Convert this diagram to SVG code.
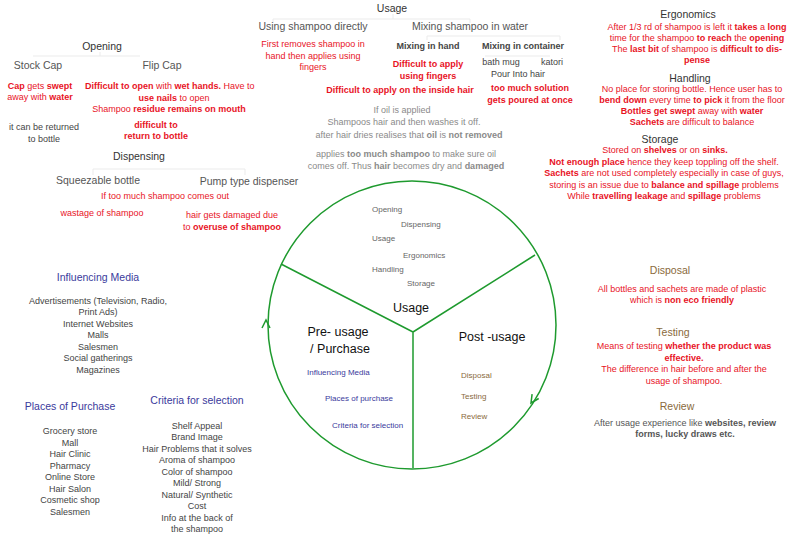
<svg xmlns="http://www.w3.org/2000/svg" width="800" height="536" viewBox="0 0 800 536">
<style>
text{font-family:"Liberation Sans",Arial,sans-serif;}
.h{font-size:10.5px;fill:#333;text-anchor:middle;}
.sub{font-size:10.5px;fill:#555;text-anchor:middle;}
.r{font-size:9px;fill:#e8131f;text-anchor:middle;}
.rb{font-size:9px;fill:#e8131f;text-anchor:middle;font-weight:bold;}
.g{font-size:9px;fill:#8a8a8a;text-anchor:middle;}
.d{font-size:9px;fill:#444;text-anchor:middle;}
.db{font-size:9px;fill:#444;text-anchor:middle;font-weight:bold;}
.b{font-weight:bold;}
.blue{font-size:10.5px;fill:#3a3a9c;text-anchor:middle;}
.brown{font-size:10.5px;fill:#8a6a3c;text-anchor:middle;}
.cs{font-size:8px;fill:#666;}
.cblue{font-size:8px;fill:#3a3a9c;}
.cbrown{font-size:8px;fill:#8a6a3c;}
.big{font-size:12.5px;fill:#111;text-anchor:middle;}
.faint{stroke:#ebebeb;stroke-width:1;fill:none;}
.green{stroke:#1e9a2e;stroke-width:1.5;fill:none;}
</style>

<g id="tree-lines">
<path class="faint" d="M273 19H470M393 14V19M273 19V23M470 19V23"/>
<path class="faint" d="M427 36H560M427 36V40M560 36V40"/>
<path class="faint" d="M485 56H550"/>
<path class="faint" d="M33 56H140M100 52V56"/>
<path class="faint" d="M93 169H245M93 169V175M245 169V175"/>
</g>

<g id="connectors">
<circle class="green" cx="412" cy="325" r="144"/>
<path class="green" d="M413 332L281 264M413 332L535 255M413 332V468"/>
<path class="green" d="M262 328L266 320L270 328"/>
<path class="green" d="M538.7 398.5L531 403L532.1 394.1"/>
</g>

<g id="usage-top">
<text class="h" x="392" y="12">Usage</text>
<text class="sub" x="313" y="30">Using shampoo directly</text>
<text class="sub" x="470" y="30">Mixing shampoo in water</text>
<text class="r" x="313" y="47">First removes shampoo in</text>
<text class="r" x="313" y="59">hand then applies using</text>
<text class="r" x="313" y="70">fingers</text>
<text class="db" x="428" y="49">Mixing in hand</text>
<text class="db" x="523" y="49">Mixing in container</text>
<text class="d" x="501" y="65">bath mug</text>
<text class="d" x="552" y="65">katori</text>
<text class="d" x="518" y="77">Pour Into hair</text>
<text class="rb" x="428" y="67">Difficult to apply</text>
<text class="rb" x="428" y="79">using fingers</text>
<text class="rb" x="400" y="93">Difficult to apply on the inside hair</text>
<text class="rb" x="530" y="91">too much solution</text>
<text class="rb" x="530" y="103">gets poured at once</text>
<text class="g" x="402" y="113">If oil is applied</text>
<text class="g" x="404" y="125">Shampoos hair and then washes it off.</text>
<text class="g" x="409" y="138">after hair dries realises that <tspan class="b">oil</tspan> is <tspan class="b">not removed</tspan></text>
<text class="g" x="406" y="157">applies <tspan class="b">too much shampoo</tspan> to make sure oil</text>
<text class="g" x="406" y="169">comes off. Thus <tspan class="b">hair</tspan> becomes dry and <tspan class="b">damaged</tspan></text>
</g>

<g id="opening">
<text class="h" x="102" y="50">Opening</text>
<text class="sub" x="38" y="69">Stock Cap</text>
<text class="sub" x="162" y="69">Flip Cap</text>
<text class="r" x="40" y="89"><tspan class="b">Cap</tspan> gets <tspan class="b">swept</tspan></text>
<text class="r" x="40" y="100">away with <tspan class="b">water</tspan></text>
<text class="r" x="85" y="89" style="text-anchor:start"><tspan class="b">Difficult to open</tspan> with <tspan class="b">wet hands.</tspan> Have to</text>
<text class="r" x="174" y="101"><tspan class="b">use nails</tspan> to open</text>
<text class="r" x="169" y="112">Shampoo <tspan class="b">residue remains on mouth</tspan></text>
<text class="rb" x="156" y="128">difficult to</text>
<text class="rb" x="156" y="139">return to bottle</text>
<text class="d" x="44" y="130">it can be returned</text>
<text class="d" x="44" y="142">to bottle</text>
</g>

<g id="dispensing">
<text class="h" x="139" y="160">Dispensing</text>
<text class="sub" x="98" y="184">Squeezable bottle</text>
<text class="sub" x="249" y="185">Pump type dispenser</text>
<text class="r" x="165" y="199">If too much shampoo comes out</text>
<text class="r" x="102" y="216">wastage of shampoo</text>
<text class="r" x="232" y="218">hair gets damaged due</text>
<text class="r" x="232" y="230">to <tspan class="b">overuse of shampoo</tspan></text>
</g>

<g id="ergonomics">
<text class="h" x="688" y="18">Ergonomics</text>
<text class="r" x="697" y="30">After 1/3 rd of shampoo is left it <tspan class="b">takes</tspan> a <tspan class="b">long</tspan></text>
<text class="r" x="697" y="41">time for the shampoo <tspan class="b">to reach</tspan> the <tspan class="b">opening</tspan></text>
<text class="r" x="697" y="52">The <tspan class="b">last bit</tspan> of shampoo is <tspan class="b">difficult to dis-</tspan></text>
<text class="rb" x="697" y="63">pense</text>
</g>

<g id="handling">
<text class="h" x="690" y="82">Handling</text>
<text class="r" x="692" y="92">No place for storing bottle. Hence user has to</text>
<text class="r" x="692" y="103"><tspan class="b">bend down</tspan> every time <tspan class="b">to pick</tspan> it from the floor</text>
<text class="r" x="692" y="114"><tspan class="b">Bottles get swept</tspan> away with <tspan class="b">water</tspan></text>
<text class="r" x="692" y="125"><tspan class="b">Sachets</tspan> are difficult to balance</text>
</g>

<g id="storage">
<text class="h" x="660" y="143">Storage</text>
<text class="r" x="665" y="153">Stored on <tspan class="b">shelves</tspan> or on <tspan class="b">sinks.</tspan></text>
<text class="r" x="664" y="165"><tspan class="b">Not enough place</tspan> hence they keep toppling off the shelf.</text>
<text class="r" x="664" y="176"><tspan class="b">Sachets</tspan> are not used completely especially in case of guys,</text>
<text class="r" x="664" y="188">storing is an issue due to <tspan class="b">balance and spillage</tspan> problems</text>
<text class="r" x="664" y="199">While <tspan class="b">travelling leakage</tspan> and <tspan class="b">spillage</tspan> problems</text>
</g>

<g id="circle-labels">
<text class="cs" x="372" y="212">Opening</text>
<text class="cs" x="401" y="227">Dispensing</text>
<text class="cs" x="372" y="241">Usage</text>
<text class="cs" x="403" y="258">Ergonomics</text>
<text class="cs" x="372" y="272">Handling</text>
<text class="cs" x="407" y="286">Storage</text>
<text class="big" x="411" y="312">Usage</text>
<text class="big" x="338" y="336">Pre- usage</text>
<text class="big" x="340" y="353">/ Purchase</text>
<text class="big" x="492" y="341">Post -usage</text>
<text class="cblue" x="307" y="375">Influencing Media</text>
<text class="cblue" x="325" y="401">Places of purchase</text>
<text class="cblue" x="332" y="428">Criteria for selection</text>
<text class="cbrown" x="461" y="378">Disposal</text>
<text class="cbrown" x="461" y="399">Testing</text>
<text class="cbrown" x="461" y="419">Review</text>
</g>

<g id="influencing-media">
<text class="blue" x="98" y="281">Influencing Media</text>
<text class="d" x="98" y="304">Advertisements (Television, Radio,</text>
<text class="d" x="98" y="315">Print Ads)</text>
<text class="d" x="98" y="327">Internet Websites</text>
<text class="d" x="98" y="338">Malls</text>
<text class="d" x="98" y="350">Salesmen</text>
<text class="d" x="98" y="361">Social gatherings</text>
<text class="d" x="98" y="373">Magazines</text>
</g>

<g id="places-of-purchase">
<text class="blue" x="70" y="410">Places of Purchase</text>
<text class="d" x="70" y="434">Grocery store</text>
<text class="d" x="70" y="446">Mall</text>
<text class="d" x="70" y="457">Hair Clinic</text>
<text class="d" x="70" y="469">Pharmacy</text>
<text class="d" x="70" y="480">Online Store</text>
<text class="d" x="70" y="492">Hair Salon</text>
<text class="d" x="70" y="503">Cosmetic shop</text>
<text class="d" x="70" y="515">Salesmen</text>
</g>

<g id="criteria">
<text class="blue" x="197" y="404">Criteria for selection</text>
<text class="d" x="197" y="429">Shelf Appeal</text>
<text class="d" x="197" y="440">Brand Image</text>
<text class="d" x="197" y="452">Hair Problems that it solves</text>
<text class="d" x="197" y="463">Aroma of shampoo</text>
<text class="d" x="197" y="475">Color of shampoo</text>
<text class="d" x="197" y="486">Mild/ Strong</text>
<text class="d" x="197" y="498">Natural/ Synthetic</text>
<text class="d" x="197" y="509">Cost</text>
<text class="d" x="197" y="521">Info at the back of</text>
<text class="d" x="197" y="532">the shampoo</text>
</g>

<g id="disposal">
<text class="brown" x="670" y="274">Disposal</text>
<text class="r" x="682" y="292">All bottles and sachets are made of plastic</text>
<text class="r" x="682" y="303">which is <tspan class="b">non eco friendly</tspan></text>
</g>

<g id="testing">
<text class="brown" x="673" y="336">Testing</text>
<text class="r" x="684" y="349">Means of testing <tspan class="b">whether the product was</tspan></text>
<text class="rb" x="684" y="361">effective.</text>
<text class="r" x="684" y="372">The difference in hair before and after the</text>
<text class="r" x="684" y="384">usage of shampoo.</text>
</g>

<g id="review">
<text class="brown" x="677" y="410">Review</text>
<text class="d" x="685" y="426" style="fill:#555">After usage experience like <tspan class="b">websites, review</tspan></text>
<text class="d" x="685" y="437" style="fill:#555"><tspan class="b">forms, lucky draws etc.</tspan></text>
</g>
</svg>
